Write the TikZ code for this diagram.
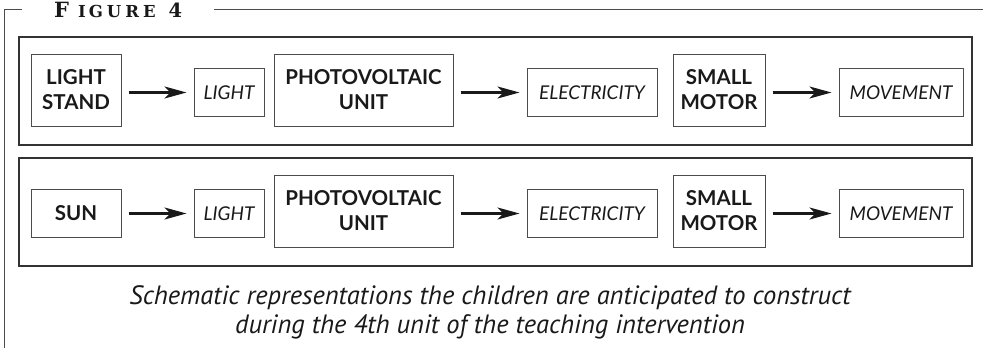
\documentclass[tikz,border=0pt]{standalone}
\usepackage{fontspec}
\usepackage{tikz}
\usetikzlibrary{arrows.meta}

\newfontfamily\boxfont{Lato}
\newfontfamily\capfont{PT Sans}
\newfontfamily\titlefont{DejaVu Serif}

\begin{document}
\begin{tikzpicture}[x=1pt,y=-1pt,
		device/.style={draw=black!70,line width=1pt,minimum height=72pt,align=center,
			inner sep=0pt,text=black!90,font=\boxfont\bfseries\fontsize{20.5}{25}\selectfont},
		energy/.style={draw=black!70,line width=1pt,minimum height=48pt,inner sep=0pt,
			text=black!90,font=\boxfont\itshape\fontsize{19}{19}\selectfont},
		panel/.style={draw=black!80,line width=1.3pt},
		frame/.style={draw=black!70,line width=1pt},
		flowarrow/.style={-{Stealth[length=22pt,width=12pt,inset=6pt]},line width=2.2pt,
			black!90,shorten <=7pt,shorten >=7pt}]
		\useasboundingbox (0,0) rectangle (983,348);

		% figure frame and title
		\node[anchor=base west,inner sep=0pt,text=black!90] (title) at (54,17)
			{\titlefont\bfseries\fontsize{21}{21}\selectfont F\kern9pt
			\fontsize{16.5}{16.5}\selectfont I\kern3pt G\kern4pt U\kern4pt R\kern4pt E\kern13pt
			\fontsize{19.5}{19.5}\selectfont 4};
		\draw[frame] (22,9) -- (4.5,9) -- (4.5,348);
		\draw[frame] (214,9) -- (983,9);

		\foreach \row/\y/\h/\dy/\src in
		{A/90/72pt/0/{LIGHT\\STAND}, B/211/48pt/2/SUN}
		{
			\draw[panel] (19,\y-53) rectangle (972,\y+55);

			\node[device,minimum width=90pt,minimum height=\h] (src\row) at (76,\y+\dy) {\src};
			\node[energy,minimum width=70pt] (light\row) at (229,\y+2.5) {LIGHT};
			\node[device,minimum width=179pt] (pv\row) at (363.5,\y) {PHOTOVOLTAIC\\UNIT};
			\node[energy,minimum width=130pt] (elec\row) at (592,\y+2.5) {ELECTRICITY};
			\node[device,minimum width=92pt] (motor\row) at (719,\y) {SMALL\\MOTOR};
			\node[energy,minimum width=124pt] (move\row) at (901,\y+2.5) {MOVEMENT};

			\draw[flowarrow] (src\row.east |- light\row.west) -- (light\row.west);
			\draw[flowarrow] (pv\row.east |- elec\row.west) -- (elec\row.west);
			\draw[flowarrow] (motor\row.east |- move\row.west) -- (move\row.west);
		}

		\node[align=center,inner sep=0pt,text=black!90,
			font=\capfont\itshape\fontsize{26.5}{29}\selectfont] (caption) at (490,312)
			{Schematic representations the children are anticipated to construct\\
			during the 4th unit of the teaching intervention};
	\end{tikzpicture}
\end{document}
